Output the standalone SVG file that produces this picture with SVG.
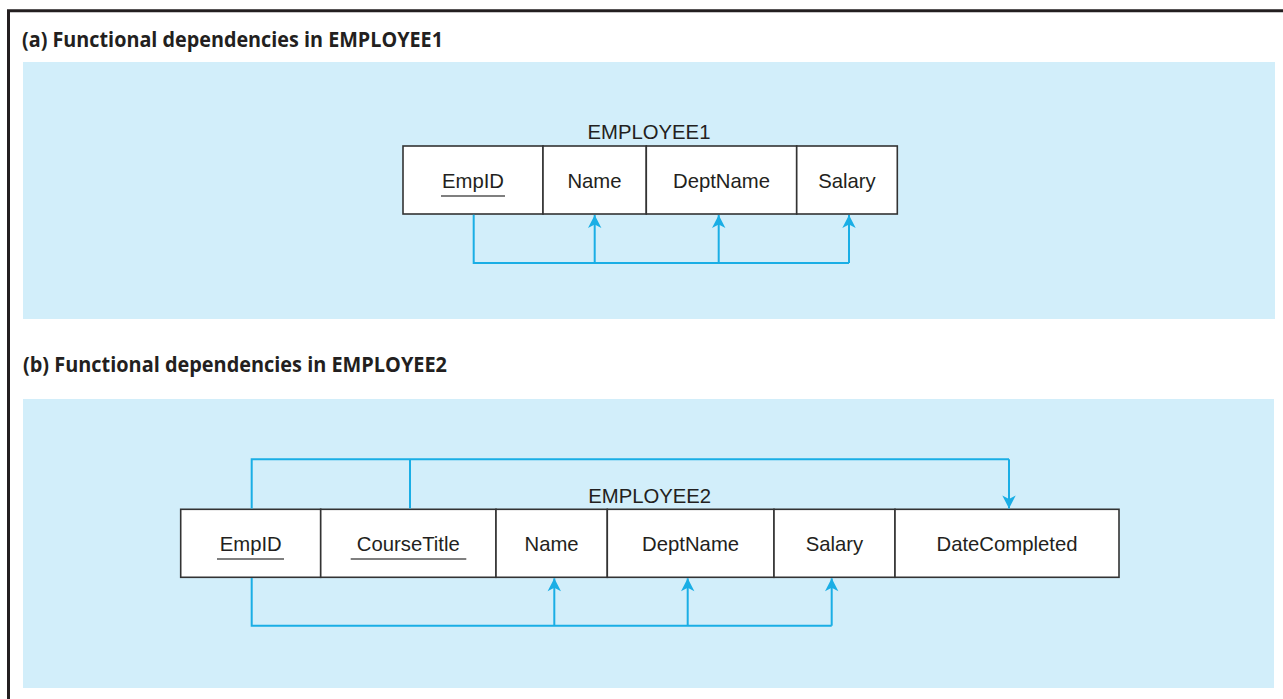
<svg xmlns="http://www.w3.org/2000/svg" width="1283" height="699" viewBox="0 0 1283 699">
<style>
.frame{stroke:#231f20;stroke-width:3;fill:none}
.panel{fill:#d2eefa}
.title{font-family:"Open Sans","Noto Sans",sans-serif;font-weight:bold;font-size:21px;fill:#231f20}
.cell{fill:#ffffff;stroke:#333333;stroke-width:1.6}
.lbl{font-family:"Liberation Sans",Arial,sans-serif;font-size:20.3px;fill:#231f20;text-anchor:middle}
.ul{stroke:#555555;stroke-width:1.6}
.conn{fill:none;stroke:#1aaee5;stroke-width:2}
.arr{marker-end:url(#ah)}
</style>
<defs>
<marker id="ah" markerUnits="userSpaceOnUse" markerWidth="16" markerHeight="16" viewBox="-14 -8 16 16" refX="0" refY="0" orient="auto">
<path d="M0,0 L-13,-6.7 L-9.5,0 L-13,6.7 Z" fill="#1aaee5"/>
</marker>
</defs>
<rect width="1283" height="699" fill="#ffffff"/>
<path class="frame" d="M8.5,699 V10.8 H1283"/>
<rect class="panel" x="23" y="62" width="1252" height="257"/>
<rect class="panel" x="23" y="399" width="1251" height="289"/>
<text class="title" x="22" y="47" textLength="421" lengthAdjust="spacingAndGlyphs">(a) Functional dependencies in EMPLOYEE1</text>
<text class="title" x="23" y="372" textLength="424" lengthAdjust="spacingAndGlyphs">(b) Functional dependencies in EMPLOYEE2</text>

<g id="employee1">
<text class="lbl" x="649" y="139">EMPLOYEE1</text>
<g id="e1-empid"><rect class="cell" x="403" y="146" width="140" height="68"/><text class="lbl" x="473" y="188">EmpID</text><line class="ul" x1="441" y1="196" x2="505" y2="196"/></g>
<g id="e1-name"><rect class="cell" x="543" y="146" width="103.3" height="68"/><text class="lbl" x="594.5" y="188">Name</text></g>
<g id="e1-deptname"><rect class="cell" x="646.3" y="146" width="150.4" height="68"/><text class="lbl" x="721.5" y="188">DeptName</text></g>
<g id="e1-salary"><rect class="cell" x="796.7" y="146" width="100.6" height="68"/><text class="lbl" x="847" y="188">Salary</text></g>
</g>

<g id="employee2">
<text class="lbl" x="649.7" y="503">EMPLOYEE2</text>
<g id="e2-empid"><rect class="cell" x="180.7" y="509.3" width="140" height="68"/><text class="lbl" x="250.7" y="551">EmpID</text><line class="ul" x1="217" y1="559" x2="284" y2="559"/></g>
<g id="e2-coursetitle"><rect class="cell" x="320.7" y="509.3" width="175.3" height="68"/><text class="lbl" x="408.3" y="551">CourseTitle</text><line class="ul" x1="350.7" y1="559" x2="466.3" y2="559"/></g>
<g id="e2-name"><rect class="cell" x="496" y="509.3" width="111.3" height="68"/><text class="lbl" x="551.6" y="551">Name</text></g>
<g id="e2-deptname"><rect class="cell" x="607.3" y="509.3" width="166.7" height="68"/><text class="lbl" x="690.6" y="551">DeptName</text></g>
<g id="e2-salary"><rect class="cell" x="774" y="509.3" width="121" height="68"/><text class="lbl" x="834.5" y="551">Salary</text></g>
<g id="e2-datecompleted"><rect class="cell" x="895" y="509.3" width="224" height="68"/><text class="lbl" x="1007" y="551">DateCompleted</text></g>
</g>

<g id="connectors">
<path class="conn" d="M473.7,214.8 V263 H849"/>
<path class="conn arr" d="M594.7,263 V215"/>
<path class="conn arr" d="M718.7,263 V215"/>
<path class="conn arr" d="M849,263 V215"/>
<path class="conn" d="M251.7,508.5 V459.3 H1009"/>
<path class="conn" d="M410,508.5 V459.3"/>
<path class="conn arr" d="M1009,459.3 V508.5"/>
<path class="conn" d="M251.7,578 V625.7 H831.7"/>
<path class="conn arr" d="M554.3,625.7 V578.3"/>
<path class="conn arr" d="M687.7,625.7 V578.3"/>
<path class="conn arr" d="M831.7,625.7 V578.3"/>
</g>
</svg>
